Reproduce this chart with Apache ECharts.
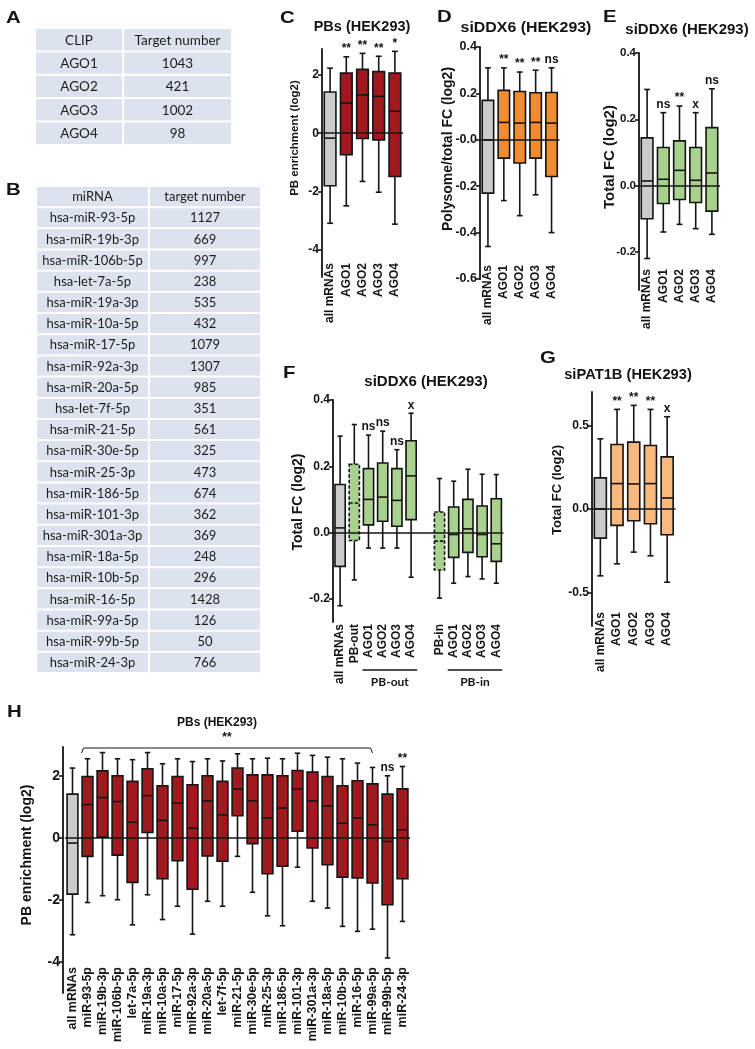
<!DOCTYPE html>
<html><head><meta charset="utf-8">
<script src="https://cdn.jsdelivr.net/npm/echarts@6/dist/echarts.min.js"></script>
<style>html,body{margin:0;padding:0;background:#fff}#c{width:755px;height:1049px}</style>
</head><body><div id="c"></div>
<script>
// ---------------- DATA ----------------
// Table A
const tableA_header = ['CLIP', 'Target number'];
const tableA_clip = ['AGO1', 'AGO2', 'AGO3', 'AGO4'];
const tableA_target = [1043, 421, 1002, 98];
// Table B
const tableB_header = ['miRNA', 'target number'];
const tableB_mirna = ['hsa-miR-93-5p','hsa-miR-19b-3p','hsa-miR-106b-5p','hsa-let-7a-5p','hsa-miR-19a-3p','hsa-miR-10a-5p','hsa-miR-17-5p','hsa-miR-92a-3p','hsa-miR-20a-5p','hsa-let-7f-5p','hsa-miR-21-5p','hsa-miR-30e-5p','hsa-miR-25-3p','hsa-miR-186-5p','hsa-miR-101-3p','hsa-miR-301a-3p','hsa-miR-18a-5p','hsa-miR-10b-5p','hsa-miR-16-5p','hsa-miR-99a-5p','hsa-miR-99b-5p','hsa-miR-24-3p'];
const tableB_target = [1127,669,997,238,535,432,1079,1307,985,351,561,325,473,674,362,369,248,296,1428,126,50,766];

// Box stats: [lower whisker, Q1, median, Q3, upper whisker]
const C_cats = ['all mRNAs','AGO1','AGO2','AGO3','AGO4'];
const C_box = [[-3.10,-1.81,-0.17,1.42,2.24],[-2.50,-0.74,1.04,2.07,2.63],[-1.66,-0.18,1.32,2.20,2.75],[-2.03,-0.23,1.27,2.12,2.65],[-3.13,-1.49,0.76,2.07,2.82]];
const C_sig = ['','**','**','**','*'];
const C_ticks = [-4,-2,0,2];

const D_cats = ['all mRNAs','AGO1','AGO2','AGO3','AGO4'];
const D_box = [[-0.46,-0.23,0.0,0.17,0.31],[-0.262,-0.079,0.075,0.213,0.31],[-0.327,-0.10,0.072,0.208,0.292],[-0.237,-0.079,0.075,0.203,0.30],[-0.40,-0.158,0.072,0.204,0.31]];
const D_sig = ['','**','**','**','ns'];
const D_ticks = [-0.6,-0.4,-0.2,0,0.2,0.4];

const E_cats = ['all mRNAs','AGO1','AGO2','AGO3','AGO4'];
const E_box = [[-0.22,-0.10,0.014,0.144,0.29],[-0.14,-0.054,0.019,0.115,0.22],[-0.117,-0.042,0.046,0.135,0.24],[-0.13,-0.051,0.016,0.115,0.22],[-0.147,-0.077,0.038,0.175,0.292]];
const E_sig = ['','ns','**','x','ns'];
const E_ticks = [-0.2,0,0.2,0.4];

const F_cats = ['all mRNAs','PB-out','AGO1','AGO2','AGO3','AGO4','','PB-in','AGO1','AGO2','AGO3','AGO4'];
const F_box = [[-0.221,-0.102,0.014,0.145,0.291],[-0.143,-0.024,0.089,0.206,0.326],[-0.047,0.023,0.10,0.193,0.294],[-0.047,0.034,0.107,0.21,0.306],[-0.047,0.019,0.097,0.193,0.25],[-0.135,0.039,0.171,0.277,0.36],null,[-0.198,-0.113,-0.026,0.062,0.163],[-0.153,-0.075,-0.006,0.077,0.155],[-0.133,-0.06,0.011,0.10,0.191],[-0.14,-0.073,-0.006,0.08,0.176],[-0.153,-0.087,-0.034,0.102,0.175]];
const F_sig = ['','','ns','ns','ns','x','','','','','',''];
const F_ticks = [-0.2,0,0.2,0.4];
const F_groups = [{name:'PB-out', from:2, to:5}, {name:'PB-in', from:8, to:11}];

const G_cats = ['all mRNAs','AGO1','AGO2','AGO3','AGO4'];
const G_box = [[-0.40,-0.174,0.0,0.186,0.42],[-0.328,-0.098,0.152,0.386,0.596],[-0.258,-0.07,0.15,0.40,0.62],[-0.28,-0.088,0.152,0.38,0.596],[-0.438,-0.154,0.066,0.312,0.552]];
const G_sig = ['','**','**','**','x'];
const G_ticks = [-0.5,0,0.5];

const H_cats = ['all mRNAs','miR-93-5p','miR-19b-3p','miR-106b-5p','let-7a-5p','miR-19a-3p','miR-10a-5p','miR-17-5p','miR-92a-3p','miR-20a-5p','let-7f-5p','miR-21-5p','miR-30e-5p','miR-25-3p','miR-186-5p','miR-101-3p','miR-301a-3p','miR-18a-5p','miR-10b-5p','miR-16-5p','miR-99a-5p','miR-99b-5p','miR-24-3p'];
const H_box = [[-3.12,-1.81,-0.16,1.42,2.26],[-2.08,-0.59,1.08,1.99,2.56],[-1.86,0.03,1.31,2.17,2.76],[-1.99,-0.55,1.18,2.01,2.56],[-2.80,-1.43,0.51,1.83,2.53],[-1.83,0.18,1.37,2.24,2.76],[-2.63,-1.31,0.57,1.69,2.40],[-2.20,-0.73,1.13,1.99,2.56],[-3.10,-1.65,0.32,1.72,2.47],[-2.04,-0.58,1.20,2.01,2.56],[-2.20,-0.75,0.75,1.83,2.49],[-0.59,0.72,1.58,2.26,2.72],[-1.75,-0.18,1.20,2.04,2.56],[-2.51,-1.15,0.65,2.04,2.58],[-2.83,-0.91,0.97,2.01,2.56],[-0.94,0.22,1.58,2.18,2.74],[-2.04,-0.32,1.20,2.13,2.67],[-2.26,-0.86,1.04,1.99,2.61],[-2.85,-1.26,0.48,1.69,2.56],[-3.01,-1.29,0.65,1.85,2.42],[-2.94,-1.45,0.43,1.75,2.28],[-3.87,-2.15,-0.11,1.42,2.01],[-2.69,-1.31,0.27,1.59,2.31]];
const H_sig = ['','','','','','','','','','','','','','','','','','','','','','ns','**'];
const H_ticks = [-4,-2,0,2];
const H_bracket = {from:1, to:20, text:'**'};

// ---------------- STYLE / LAYOUT ----------------
const FONT = '"Liberation Sans", Arial, sans-serif';
const TFONT = 'Lato, "Open Sans", sans-serif';
const INK = '#141414';
const GRAY = '#cbcbcb', RED = '#a0191e', ORANGE = '#f48b2f', GREEN = '#a8d18d', LORANGE = '#f9b87c';
const fmtInt = v => String(v);
const fmt1 = v => v.toFixed(1);

const panels = [
  {cats:C_cats, box:C_box, sig:C_sig, ticks:C_ticks, min:-4.95, max:2.9, g:{left:322,top:49,width:81,height:228}, colors:[GRAY,RED,RED,RED,RED], dashed:[], xOff:-16, yOff:0, tickSize:12, catSize:12, fmt:fmtInt},
  {cats:D_cats, box:D_box, sig:D_sig, ticks:D_ticks, min:-0.6, max:0.4, g:{left:480,top:47,width:79.5,height:232}, colors:[GRAY,ORANGE,ORANGE,ORANGE,ORANGE], dashed:[], xOff:-16, yOff:0, tickSize:12.5, catSize:12, fmt:v => v === 0 ? '-0.0' : v.toFixed(1)},
  {cats:E_cats, box:E_box, sig:E_sig, ticks:E_ticks, min:-0.315, max:0.4, g:{left:639,top:53,width:81,height:237}, colors:[GRAY,GREEN,GREEN,GREEN,GREEN], dashed:[], xOff:-23, yOff:0, tickSize:11.5, catSize:12, fmt:fmt1},
  {cats:F_cats, box:F_box, sig:F_sig, ticks:F_ticks, min:-0.27, max:0.4, g:{left:333,top:400,width:170.4,height:222}, colors:[GRAY,GREEN,GREEN,GREEN,GREEN,GREEN,GREEN,GREEN,GREEN,GREEN,GREEN,GREEN], dashed:[1,7], xOff:0, yOff:0, tickSize:12, catSize:12, fmt:fmt1},
  {cats:G_cats, box:G_box, sig:G_sig, ticks:G_ticks, min:-0.7, max:0.7, g:{left:592,top:392,width:83.5,height:234}, colors:[GRAY,LORANGE,LORANGE,LORANGE,LORANGE], dashed:[], xOff:-16, yOff:0, tickSize:12, catSize:12, fmt:fmt1},
  {cats:H_cats, box:H_box, sig:H_sig, ticks:H_ticks, min:-5, max:2.94, g:{left:65,top:747,width:345,height:246}, colors:H_cats.map((c,i)=> i===0?GRAY:RED), dashed:[], xOff:-28, yOff:2, tickSize:14, catSize:12.5, fmt:fmtInt}
];

function makeBoxRender(p) {
  return function (params, api) {
    const idx = api.value(0);
    const lo = api.coord([idx, api.value(1)]);
    const q1 = api.coord([idx, api.value(2)]);
    const md = api.coord([idx, api.value(3)]);
    const q3 = api.coord([idx, api.value(4)]);
    const hi = api.coord([idx, api.value(5)]);
    const band = api.size([1, 0])[0];
    const bw = band * 0.72, cw = bw * 0.5, cx = lo[0];
    const dash = p.dashed.indexOf(idx) >= 0 ? [3.5, 2] : null;
    const ls = {stroke: INK, lineWidth: 1.6};
    const children = [
      {type:'line', shape:{x1:cx,y1:hi[1],x2:cx,y2:q3[1]}, style:ls},
      {type:'line', shape:{x1:cx,y1:q1[1],x2:cx,y2:lo[1]}, style:ls},
      {type:'line', shape:{x1:cx-cw/2,y1:hi[1],x2:cx+cw/2,y2:hi[1]}, style:ls},
      {type:'line', shape:{x1:cx-cw/2,y1:lo[1],x2:cx+cw/2,y2:lo[1]}, style:ls},
      {type:'rect', shape:{x:cx-bw/2,y:q3[1],width:bw,height:q1[1]-q3[1]}, style:{fill:p.colors[idx], stroke:INK, lineWidth:1.6, lineDash:dash}},
      {type:'line', shape:{x1:cx-bw/2,y1:md[1],x2:cx+bw/2,y2:md[1]}, style:{stroke:INK, lineWidth:1.6, lineDash:dash}}
    ];
    const s = p.sig[idx];
    if (s) children.push({type:'text', style:{text:s, x:cx, y:hi[1]-2, textAlign:'center', textVerticalAlign:'bottom', font:'bold 12px ' + FONT, fill:INK}});
    return {type:'group', children};
  };
}

function makeTableRender(texts, colFrac, fontSize) {
  return function (params, api) {
    const col = api.value(0), row = api.value(1);
    const cs = params.coordSys;
    const rowH = api.size([0, 1])[1];
    const cy = api.coord([0, row])[1];
    const split = cs.x + cs.width * colFrac;
    const x0 = col === 0 ? cs.x : split;
    const x1 = col === 0 ? split : cs.x + cs.width;
    return {type:'group', children:[
      {type:'rect', shape:{x:x0+1, y:cy-rowH/2+1, width:x1-x0-2, height:rowH-2}, style:{fill:'#dde3ee'}},
      {type:'text', style:{text:String(texts[row][col]), x:(x0+x1)/2, y:cy+0.5, textAlign:'center', textVerticalAlign:'middle', font:fontSize + 'px ' + TFONT, fill:'#1c1c1c'}}
    ]};
  };
}

const grids = [], xAxes = [], yAxes = [], series = [];
panels.forEach((p, i) => {
  grids.push(Object.assign({containLabel:false}, p.g));
  xAxes.push({type:'category', gridIndex:i, data:p.cats, boundaryGap:true, position:'bottom', offset:p.xOff,
    axisLine:{show:false, onZero:false}, axisTick:{show:false}, splitLine:{show:false},
    axisLabel:{show:true, rotate:90, interval:0, margin:2, fontFamily:FONT, fontWeight:'bold', fontSize:p.catSize, color:INK}});
  yAxes.push({type:'value', gridIndex:i, min:p.min, max:p.max, offset:p.yOff, splitLine:{show:false},
    axisLine:{show:true, lineStyle:{color:INK, width:1.8}},
    axisTick:{show:true, customValues:p.ticks, length:4, lineStyle:{color:INK, width:1.6}},
    axisLabel:{show:true, customValues:p.ticks, margin:3, formatter:p.fmt, fontFamily:FONT, fontWeight:'bold', fontSize:p.tickSize, color:INK}});
  series.push({type:'line', xAxisIndex:i, yAxisIndex:i, data:[], z:1, silent:true,
    markLine:{silent:true, symbol:'none', label:{show:false}, lineStyle:{color:INK, width:1.5, type:'solid'}, data:[{yAxis:0}]}});
  const data = [];
  p.box.forEach((b, k) => { if (b) data.push([k].concat(b)); });
  series.push({type:'custom', xAxisIndex:i, yAxisIndex:i, z:3, clip:false, silent:true,
    renderItem:makeBoxRender(p), encode:{x:0, y:[1,2,3,4,5]}, data});
});

// Tables
const tableA_texts = [tableA_header].concat(tableA_clip.map((c, k) => [c, tableA_target[k]]));
const tableB_texts = [tableB_header].concat(tableB_mirna.map((m, k) => [m, tableB_target[k]]));
const tables = [
  {texts:tableA_texts, g:{left:35, top:28, width:197, height:117}, colFrac:0.447, fs:13.5},
  {texts:tableB_texts, g:{left:36, top:186, width:225, height:487}, colFrac:0.502, fs:13}
];
tables.forEach((t) => {
  const gi = grids.length;
  grids.push(t.g);
  xAxes.push({type:'category', gridIndex:gi, data:['c0','c1'], show:false});
  yAxes.push({type:'category', gridIndex:gi, data:t.texts.map((r, k) => 'r' + k), inverse:true, show:false});
  const data = [];
  t.texts.forEach((r, row) => { data.push([0, row]); data.push([1, row]); });
  series.push({type:'custom', xAxisIndex:gi, yAxisIndex:gi, silent:true, clip:false,
    renderItem:makeTableRender(t.texts, t.colFrac, t.fs), encode:{x:0, y:1}, data});
});

const chart = echarts.init(document.getElementById('c'), null, {renderer:'canvas'});
chart.setOption({animation:false, backgroundColor:'#fff', grid:grids, xAxis:xAxes, yAxis:yAxes, series});

// ---------------- TEXT ANNOTATIONS ----------------
const g = [];
function txt(text, x, y, size, opts) {
  opts = opts || {};
  g.push({type:'text', x:x, y:y, rotation:opts.rot || 0, scaleX:opts.sx || 1, scaleY:opts.sy || 1, silent:true,
    style:{text:text, x:0, y:0, font:(opts.weight || 'bold') + ' ' + size + 'px ' + (opts.family || FONT), fill:INK,
      textAlign:opts.align || 'center', textVerticalAlign:opts.valign || 'middle'}});
}
// panel letters
[['A',6,10],['B',6,182],['C',280,10],['D',437,9],['E',603,9],['F',283,365],['G',540,350],['H',7,704]].forEach(l => txt(l[0], l[1], l[2], 17, {align:'left', valign:'top', sx:1.2}));
// titles
txt('PBs (HEK293)', 362, 27, 14.5);
txt('siDDX6 (HEK293)', 526, 28, 15, {sx:1.06});
txt('siDDX6 (HEK293)', 687, 30, 15);
txt('siDDX6 (HEK293)', 426, 382, 15);
txt('siPAT1B (HEK293)', 628, 375, 14.7);
txt('PBs (HEK293)', 217, 723, 12);
// y-axis names
txt('PB enrichment (log2)', 295, 138, 11.5, {rot:Math.PI/2});
txt('Polysome/total FC (log2)', 448, 149, 14, {rot:Math.PI/2});
txt('Total FC (log2)', 610, 157, 15, {rot:Math.PI/2});
txt('Total FC (log2)', 298, 502, 14, {rot:Math.PI/2});
txt('Total FC (log2)', 557, 490, 13, {rot:Math.PI/2});
txt('PB enrichment (log2)', 27, 855, 14, {rot:Math.PI/2});

// F group underlines
F_groups.forEach(gr => {
  const a = chart.convertToPixel({xAxisIndex:3, yAxisIndex:3}, [gr.from, 0]);
  const b = chart.convertToPixel({xAxisIndex:3, yAxisIndex:3}, [gr.to, 0]);
  const x1 = a[0] - 6, x2 = b[0] + 6;
  g.push({type:'line', silent:true, shape:{x1:x1, y1:670, x2:x2, y2:670}, style:{stroke:INK, lineWidth:1.5}});
  txt(gr.name, (x1 + x2) / 2, 682, 12, {family:TFONT});
});
// H bracket
(function () {
  const a = chart.convertToPixel({xAxisIndex:5, yAxisIndex:5}, [H_bracket.from, 0]);
  const b = chart.convertToPixel({xAxisIndex:5, yAxisIndex:5}, [H_bracket.to, 0]);
  const x1 = a[0] - 6, x2 = b[0];
  g.push({type:'polyline', silent:true, shape:{points:[[x1, 753], [x1 + 2, 748], [x2 - 2, 748], [x2, 753]]}, style:{stroke:INK, lineWidth:1, fill:null}});
  txt(H_bracket.text, (x1 + x2) / 2, 744, 12, {valign:'bottom'});
})();

chart.setOption({graphic:{elements:g}});
</script></body></html>
